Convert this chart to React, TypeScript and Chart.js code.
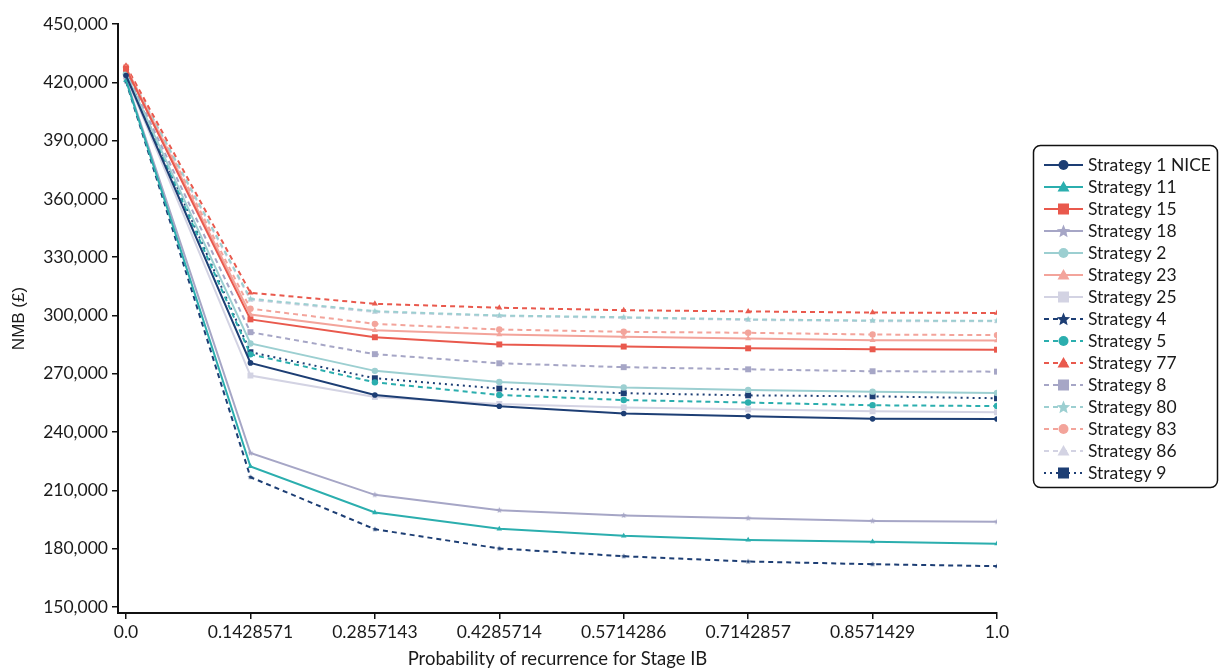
import React, { useEffect, useRef } from "react";
import { Chart, registerables } from "chart.js";

Chart.register(...registerables);

const xValues = [0, 0.1428571, 0.2857143, 0.4285714, 0.5714286, 0.7142857, 0.8571429, 1.0];
const xLabels = ["0.0", "0.1428571", "0.2857143", "0.4285714", "0.5714286", "0.7142857", "0.8571429", "1.0"];
const yTicks = [150000, 180000, 210000, 240000, 270000, 300000, 330000, 360000, 390000, 420000, 450000];

const s1 = [423500, 275600, 259100, 253300, 249600, 248100, 246800, 246700];
const s11 = [421000, 222300, 198600, 190200, 186600, 184500, 183600, 182600];
const s15 = [427000, 298000, 288800, 285100, 284000, 283100, 282600, 282400];
const s18 = [421500, 229200, 207700, 199800, 197100, 195700, 194300, 193800];
const s2 = [424500, 285600, 271500, 265800, 263000, 261700, 260800, 260100];
const s23 = [427500, 300500, 292400, 290200, 289000, 288100, 287300, 287100];
const s25 = [423000, 269100, 258100, 254500, 252700, 251700, 250700, 250200];
const s4 = [420500, 216800, 190000, 180100, 176100, 173400, 172000, 171000];
const s5 = [424000, 280000, 265600, 259100, 256500, 255200, 253800, 253400];
const s77 = [428500, 311700, 306000, 304000, 302700, 302100, 301500, 301300];
const s8 = [425500, 291400, 280100, 275400, 273400, 272300, 271300, 271100];
const s80 = [427000, 308600, 302200, 300000, 299100, 298000, 297400, 297300];
const s83 = [428000, 303500, 295700, 292800, 291600, 291100, 290200, 289900];
const s86 = [426500, 308000, 301800, 299700, 298800, 297700, 297100, 297000];
const s9 = [425300, 281100, 267700, 262400, 260000, 258900, 258400, 257400];

const NAVY = "#1d3e74";
const TEAL = "#2baeae";
const RED = "#e9594d";
const LAV = "#a6a6c6";
const LTEAL = "#9ccfd1";
const SALMON = "#f3a49b";
const LLAV = "#d3d3e3";

const DASH = [5, 4];
const DOT = [2, 4];

type Spec = { label: string; data: number[]; color: string; dash: number[]; marker: string; r: number };

const series: Spec[] = [
  { label: "Strategy 1 NICE", data: s1, color: NAVY, dash: [], marker: "circle", r: 2.8 },
  { label: "Strategy 11", data: s11, color: TEAL, dash: [], marker: "triangle", r: 3.2 },
  { label: "Strategy 15", data: s15, color: RED, dash: [], marker: "rect", r: 4.2 },
  { label: "Strategy 18", data: s18, color: LAV, dash: [], marker: "star", r: 3.2 },
  { label: "Strategy 2", data: s2, color: LTEAL, dash: [], marker: "circle", r: 3.2 },
  { label: "Strategy 23", data: s23, color: SALMON, dash: [], marker: "triangle", r: 3.5 },
  { label: "Strategy 25", data: s25, color: LLAV, dash: [], marker: "rect", r: 4.2 },
  { label: "Strategy 4", data: s4, color: NAVY, dash: DASH, marker: "star", r: 2.8 },
  { label: "Strategy 5", data: s5, color: TEAL, dash: DASH, marker: "circle", r: 3.2 },
  { label: "Strategy 77", data: s77, color: RED, dash: DASH, marker: "triangle", r: 3.5 },
  { label: "Strategy 8", data: s8, color: LAV, dash: DASH, marker: "rect", r: 4.2 },
  { label: "Strategy 80", data: s80, color: LTEAL, dash: DASH, marker: "star", r: 3.5 },
  { label: "Strategy 83", data: s83, color: SALMON, dash: DASH, marker: "circle", r: 3.2 },
  { label: "Strategy 86", data: s86, color: LLAV, dash: DASH, marker: "triangle", r: 3.5 },
  { label: "Strategy 9", data: s9, color: NAVY, dash: DOT, marker: "rect", r: 4.2 },
];

function starPath(ctx: CanvasRenderingContext2D, cx: number, cy: number, R: number) {
  const r = R * 0.45;
  ctx.beginPath();
  for (let i = 0; i < 10; i++) {
    const a = -Math.PI / 2 + (i * Math.PI) / 5;
    const rad = i % 2 === 0 ? R : r;
    const x = cx + rad * Math.cos(a);
    const y = cy + rad * Math.sin(a);
    if (i === 0) ctx.moveTo(x, y);
    else ctx.lineTo(x, y);
  }
  ctx.closePath();
}

function starCanvas(color: string, R: number) {
  const c = document.createElement("canvas");
  const size = Math.ceil(R * 2 + 2);
  c.width = size;
  c.height = size;
  const g = c.getContext("2d")!;
  g.fillStyle = color;
  starPath(g, size / 2, size / 2, R);
  g.fill();
  return c;
}

function drawMarker(ctx: CanvasRenderingContext2D, marker: string, color: string, x: number, y: number) {
  ctx.save();
  ctx.setLineDash([]);
  ctx.fillStyle = color;
  if (marker === "circle") {
    ctx.beginPath();
    ctx.arc(x, y, 5, 0, Math.PI * 2);
    ctx.fill();
  } else if (marker === "rect") {
    ctx.fillRect(x - 5.5, y - 5.5, 11, 11);
  } else if (marker === "triangle") {
    ctx.beginPath();
    ctx.moveTo(x, y - 6);
    ctx.lineTo(x + 6, y + 4.5);
    ctx.lineTo(x - 6, y + 4.5);
    ctx.closePath();
    ctx.fill();
  } else {
    starPath(ctx, x, y + 0.5, 7);
    ctx.fill();
  }
  ctx.restore();
}

const legendPlugin = {
  id: "customLegend",
  afterDraw(chart: any) {
    const ctx: CanvasRenderingContext2D = chart.ctx;
    ctx.save();
    const bx = 1033.5, by = 145.5, bw = 184, bh = 342;
    ctx.beginPath();
    ctx.roundRect(bx, by, bw, bh, 7);
    ctx.fillStyle = "#ffffff";
    ctx.fill();
    ctx.lineWidth = 1.5;
    ctx.strokeStyle = "#111";
    ctx.stroke();
    series.forEach((s, i) => {
      const y = 165 + i * 22;
      ctx.save();
      ctx.strokeStyle = s.color;
      ctx.lineWidth = 2;
      ctx.setLineDash(s.dash);
      ctx.beginPath();
      ctx.moveTo(1044, y);
      ctx.lineTo(1083, y);
      ctx.stroke();
      ctx.restore();
      drawMarker(ctx, s.marker, s.color, 1063.5, y);
      ctx.fillStyle = "#1a1a1a";
      ctx.font = "17.5px Lato";
      ctx.textBaseline = "middle";
      ctx.textAlign = "left";
      ctx.fillText(s.label, 1088, y + 0.5);
    });
    ctx.restore();
  },
};

export default function App() {
  const ref = useRef<HTMLCanvasElement>(null);
  useEffect(() => {
    document.body.style.margin = "0";
    const datasets = series.map((s) => ({
      label: s.label,
      data: s.data.map((v, i) => ({ x: xValues[i], y: v })),
      borderColor: s.color,
      backgroundColor: s.color,
      borderWidth: 2,
      borderDash: s.dash,
      pointStyle: s.marker === "star" ? starCanvas(s.color, s.r) : s.marker,
      pointRadius: s.r,
      pointBorderWidth: 0,
      pointBackgroundColor: s.color,
      pointBorderColor: s.color,
      tension: 0,
      fill: false,
    }));
    const chart = new Chart(ref.current!, {
      type: "line",
      data: { datasets },
      plugins: [legendPlugin],
      options: {
        animation: false,
        responsive: false,
        layout: { padding: { top: 24, right: 222, left: 0, bottom: 0 } },
        plugins: { legend: { display: false }, tooltip: { enabled: false } },
        scales: {
          x: {
            type: "linear",
            min: -0.0092,
            max: 1.0,
            afterBuildTicks: (scale: any) => {
              scale.ticks = xValues.map((v) => ({ value: v }));
            },
            afterFit: (scale: any) => {
              scale.height = 57;
            },
            ticks: {
              autoSkip: false,
              maxRotation: 0,
              padding: 3,
              color: "#1a1a1a",
              font: { family: "Lato", size: 17.5 },
              callback: (v: any) => {
                const idx = xValues.findIndex((x) => Math.abs(x - v) < 1e-6);
                return idx >= 0 ? xLabels[idx] : "";
              },
            },
            grid: { display: true, drawOnChartArea: false, drawTicks: true, tickLength: 6, color: "#111", lineWidth: 1.5 },
            border: { display: true, color: "#111", width: 2 },
            title: {
              display: true,
              text: "Probability of recurrence for Stage IB",
              color: "#1a1a1a",
              font: { family: "Lato", size: 18.5 },
              padding: { top: 0, bottom: 0 },
            },
          },
          y: {
            type: "linear",
            min: 146900,
            max: 450000,
            afterBuildTicks: (scale: any) => {
              scale.ticks = yTicks.map((v) => ({ value: v }));
            },
            afterFit: (scale: any) => {
              scale.width = 118;
            },
            ticks: {
              padding: 4,
              color: "#1a1a1a",
              font: { family: "Lato", size: 17.5 },
              callback: (v: any) => Number(v).toLocaleString("en-US"),
            },
            grid: { display: true, drawOnChartArea: false, drawTicks: true, tickLength: 6, color: "#111", lineWidth: 1.5 },
            border: { display: true, color: "#111", width: 2 },
            title: {
              display: true,
              text: "NMB (£)",
              color: "#1a1a1a",
              font: { family: "Liberation Sans", size: 17 },
              padding: { top: 9, bottom: 0 },
            },
          },
        },
      } as any,
    });
    return () => chart.destroy();
  }, []);
  return (
    <div style={{ position: "fixed", left: 0, top: 0, width: 1219, height: 670, background: "#fff" }}>
      <canvas ref={ref} width={1219} height={670} style={{ width: 1219, height: 670 }} />
    </div>
  );
}
